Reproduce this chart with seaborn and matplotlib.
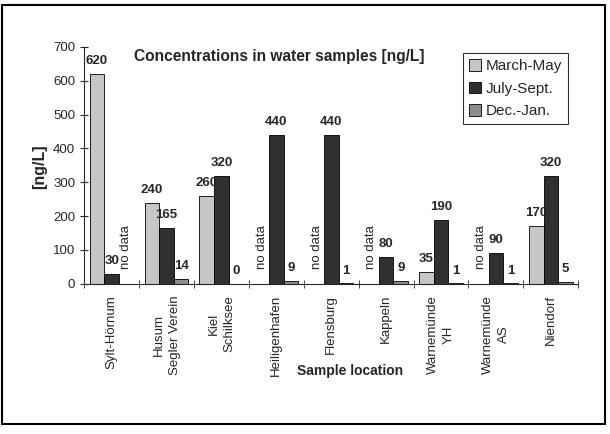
import numpy as np
import pandas as pd
import seaborn as sns
import matplotlib.pyplot as plt
from matplotlib.patches import Rectangle

locations = ['Sylt-Hörnum', 'Husum\nSegler Verein', 'Kiel\nSchilksee', 'Heiligenhafen',
             'Flensburg', 'Kappeln', 'Warnemünde\nYH', 'Warnemünde\nAS', 'Niendorf']
seasons = ['March-May', 'July-Sept.', 'Dec.-Jan.']
march_may = [620, 240, 260, np.nan, np.nan, np.nan, 35, np.nan, 170]
july_sept = [30, 165, 320, 440, 440, 80, 190, 90, 320]
dec_jan = [np.nan, 14, 0, 9, 1, 9, 1, 1, 5]
colors = ['#c6c6c6', '#303030', '#8c8c8c']

df = pd.DataFrame({'location': locations * 3,
                   'season': list(np.repeat(seasons, len(locations))),
                   'value': march_may + july_sept + dec_jan})
# missing values drawn as zero-height bars, hidden later
df['plotted'] = df['value'].fillna(0)

sns.set_style('ticks')
plt.rcParams['font.family'] = ['Liberation Sans', 'DejaVu Sans']

fig = plt.figure(figsize=(6.1, 4.34), dpi=100)
ax = fig.add_axes([0.138, 0.346, 0.81, 0.546])
sns.barplot(data=df, x='location', y='plotted', hue='season', order=locations,
            hue_order=seasons, palette=colors, width=0.8, edgecolor='black',
            linewidth=0.6, saturation=1, errorbar=None, ax=ax)

for cont, vals in zip(ax.containers, [march_may, july_sept, dec_jan]):
    for bar, v in zip(cont, vals):
        cx = bar.get_x() + bar.get_width() / 2
        if np.isnan(v):
            bar.set_visible(False)
            ax.text(cx, 45, 'no data', rotation=90, ha='center', va='bottom', fontsize=9.5)
        else:
            ax.annotate(f'{v:g}', (cx, v), xytext=(0, 5), textcoords='offset points',
                        ha='center', va='bottom', fontsize=9.5, fontweight='bold')

ax.set_xlim(-0.5, 8.5)
ax.set_ylim(0, 700)
ax.set_yticks(range(0, 701, 100))
ax.set_xticks(np.arange(-0.5, 9), minor=True)
ax.tick_params(axis='x', which='major', length=0, labelsize=9.5, pad=8)
ax.tick_params(axis='x', which='minor', length=6, direction='inout')
ax.tick_params(axis='y', labelsize=9.5, length=6, direction='inout')
for lbl in ax.get_xticklabels():
    lbl.set_rotation(90)
    lbl.set_multialignment('center')
    lbl.set_linespacing(1.45)
sns.despine(ax=ax)

ax.set_xlabel('Sample location', fontsize=10, fontweight='bold')
ax.xaxis.set_label_coords(0.538, -0.34)
ax.set_ylabel('[ng/L]', fontsize=11.5, fontweight='bold')
ax.yaxis.set_label_coords(-0.075, 0.494)

fig.text(279 / 610, 1 - 57 / 434, 'Concentrations in water samples [ng/L]',
         ha='center', va='center', fontsize=11.2, fontweight='bold')

ax.legend(loc='upper left', bbox_to_anchor=(463 / 610, 1 - 53 / 434),
          bbox_transform=fig.transFigure, frameon=True, fancybox=False,
          edgecolor='black', fontsize=11, handlelength=0.8, handleheight=0.8,
          handletextpad=0.3, borderpad=0.4, labelspacing=0.55, borderaxespad=0)
ax.get_legend().get_frame().set_linewidth(0.8)

fig.patches.append(Rectangle((2 / 610, 1 - 424 / 434), 603 / 610, 419 / 434,
                             transform=fig.transFigure, fill=False, lw=1.5,
                             edgecolor='black'))

fig.savefig('out.png', dpi=100)
